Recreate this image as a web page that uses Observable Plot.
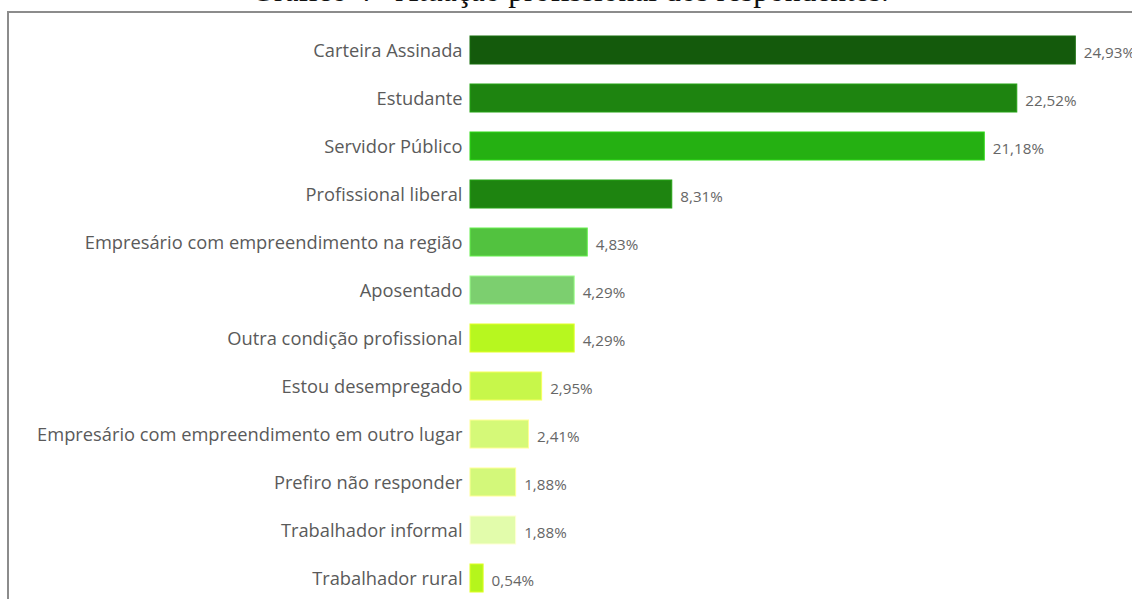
<!DOCTYPE html>
<html>
<head>
<meta charset="utf-8">
<script src="https://cdn.jsdelivr.net/npm/d3@7"></script>
<script src="https://cdn.jsdelivr.net/npm/@observablehq/plot@0.6"></script>
<style>
  html, body { margin: 0; padding: 0; background: #fff; overflow: hidden; }
  #wrap { position: relative; width: 1132px; height: 599px; overflow: hidden; background: #fff; }
  #title { position: absolute; left: 0; width: 1132px; top: -25px; text-align: center;
           font-family: "Liberation Serif", "DejaVu Serif", serif; font-size: 31.5px; line-height: 1; color: #111; padding-left: 8px; box-sizing: border-box; white-space: nowrap; }
  #frame { position: absolute; left: 7px; top: 11px; width: 1160px; height: 700px; border: 2px solid #8c8c8c; box-sizing: border-box; }
  #chart { position: absolute; left: 0; top: 0; }
</style>
</head>
<body>
<div id="wrap">
  <div id="title">Gráfico 4 - Atuação profissional dos respondentes.</div>
  <div id="frame"></div>
  <div id="chart"></div>
</div>
<script>
const categories = [
  "Carteira Assinada",
  "Estudante",
  "Servidor Público",
  "Profissional liberal",
  "Empresário com empreendimento na região",
  "Aposentado",
  "Outra condição profissional",
  "Estou desempregado",
  "Empresário com empreendimento em outro lugar",
  "Prefiro não responder",
  "Trabalhador informal",
  "Trabalhador rural"
];
const values = [24.93, 22.52, 21.18, 8.31, 4.83, 4.29, 4.29, 2.95, 2.41, 1.88, 1.88, 0.54];
const valueLabels = ["24,93%", "22,52%", "21,18%", "8,31%", "4,83%", "4,29%", "4,29%", "2,95%", "2,41%", "1,88%", "1,88%", "0,54%"];
const barColors = ["#145a0c", "#1e8410", "#25b012", "#1e8410", "#52c23f", "#7ccf6f",
                   "#b7f71f", "#c7f74a", "#d5f978", "#d3f87a", "#e2fcab", "#b5f51c"];

const data = categories.map((c, i) => ({cat: c, v: values[i], label: valueLabels[i], color: barColors[i]}));

const chart = Plot.plot({
  width: 1132,
  height: 599,
  marginLeft: 470,
  marginRight: 0,
  marginTop: 0,
  marginBottom: 0,
  style: {background: "transparent", overflow: "visible"},
  x: {domain: [0, 25], range: [470, 1077], axis: null},
  y: {domain: categories, range: [26, 602], paddingInner: 0.4167, paddingOuter: 0.2083, axis: null},
  marks: [
    Plot.barX(data, {
      x: "v", y: "cat", fill: "color",
      stroke: d => d3.color(d.color).brighter(0.6).formatHex(), strokeWidth: 1
    }),
    Plot.text(data, {
      x: 0, y: "cat", text: "cat", textAnchor: "end", dx: -8, dy: 1,
      fontSize: 18.3, fill: "#5a5a5a", fontFamily: "'Open Sans', sans-serif"
    }),
    Plot.text(data, {
      x: "v", y: "cat", text: "label", textAnchor: "start", dx: 8, dy: 3,
      fontSize: 15.2, fill: "#666666", fontFamily: "'Open Sans', sans-serif"
    })
  ]
});
document.getElementById("chart").appendChild(chart);
</script>
</body>
</html>
